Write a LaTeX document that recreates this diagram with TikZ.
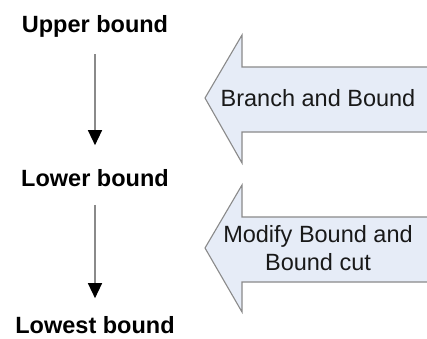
\documentclass[tikz,border=0pt]{standalone}
\usepackage{fontspec}
\setmainfont{Liberation Sans}
\usetikzlibrary{arrows.meta}
\definecolor{arrowfill}{HTML}{E6ECF7}
\definecolor{arrowline}{HTML}{8A8A8A}
\begin{document}
\begin{tikzpicture}[x=1pt,y=-1pt,
  lbl/.style={inner sep=0pt,font=\fontsize{23.5}{28}\selectfont\bfseries,text=black},
  blocktxt/.style={inner sep=0pt,align=center,font=\fontsize{23.5}{28}\selectfont,text=black!90},
  flow/.style={draw=arrowline,line width=1.4pt,-{Triangle[color=black,length=15pt,width=14pt]}},
  block/.style={draw=arrowline,fill=arrowfill,line width=1.1pt,line join=miter}
]
\useasboundingbox (0,0) rectangle (427,338);
\fill[white] (0,0) rectangle (427,338);
% block arrows
\draw[block] (435,67) -- (242,67) -- (242,35) -- (205,98) -- (242,163) -- (242,132) -- (435,132);
\draw[block] (435,217) -- (242,217) -- (242,185) -- (205,248) -- (242,312) -- (242,282) -- (435,282);
\node[blocktxt] (bb) at (318,98) {Branch and Bound};
\node[blocktxt] (mb) at (318,248) {Modify Bound and\\Bound cut};
% labels
\node[lbl] (ub) at (95,26) {Upper bound};
\node[lbl] (lb) at (95,178) {Lower bound};
\node[lbl] (lw) at (95,325.5) {Lowest bound};
\draw[flow,shorten <=17pt,shorten >=24pt] (ub.south) -- (lb.north);
\draw[flow,shorten <=18pt,shorten >=18.5pt] (lb.south) -- (lw.north);
\end{tikzpicture}
\end{document}
